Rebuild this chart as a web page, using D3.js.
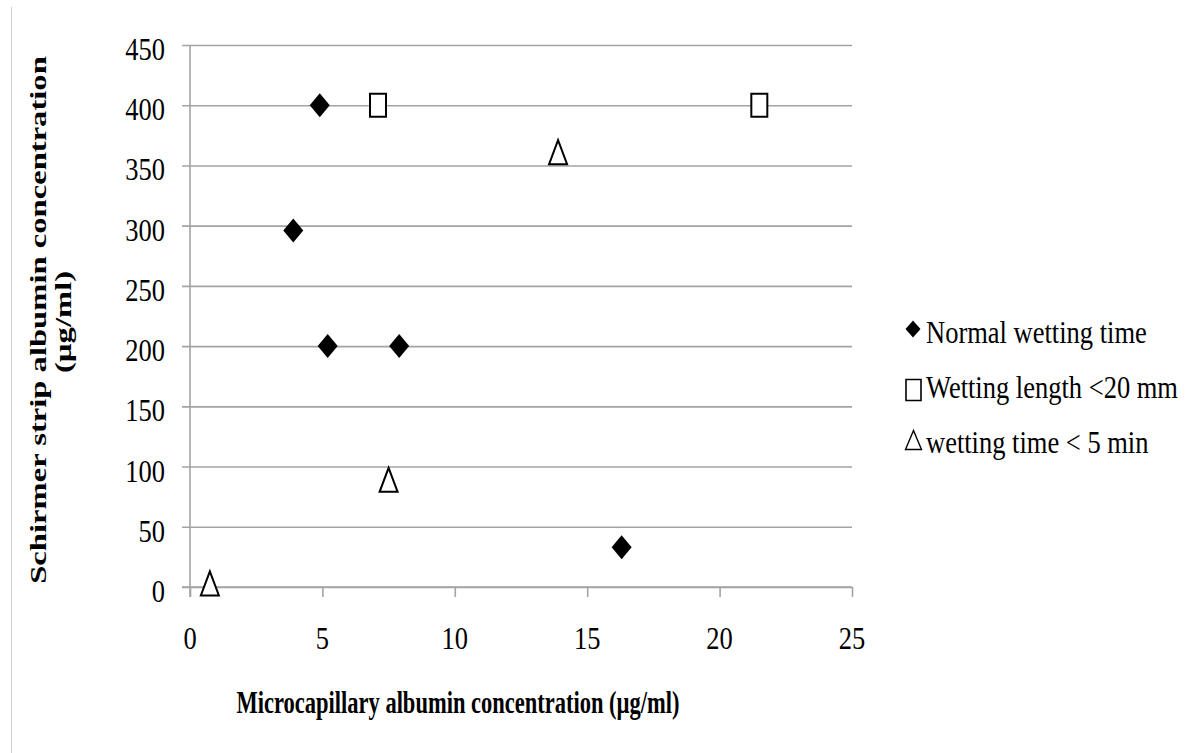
<!DOCTYPE html>
<html>
<head>
<meta charset="utf-8">
<script src="https://cdn.jsdelivr.net/npm/d3@7"></script>
<style>
  html, body { margin: 0; padding: 0; background: #fff; }
  svg { display: block; }
  text { font-family: "Liberation Serif", "Times New Roman", serif; fill: #000; }
</style>
</head>
<body>
<svg id="chart" width="1200" height="753"></svg>
<script>
// Albumin concentrations (µg/ml) per group
const normalX = [4.9, 3.9, 5.2, 7.9, 16.3];
const normalY = [400, 296, 200, 200, 33];
const lengthX = [7.1, 21.5];
const lengthY = [400, 400];
const timeX = [0.75, 7.5, 13.9];
const timeY = [3, 89, 361];

const seriesNames = ["Normal wetting time", "Wetting length <20 mm", "wetting time < 5 min"];
const xTicks = [0, 5, 10, 15, 20, 25];
const yTicks = [0, 50, 100, 150, 200, 250, 300, 350, 400, 450];
const xTitle = "Microcapillary albumin concentration (µg/ml)";
const yTitle = ["Schirmer strip albumin concentration", "(µg/ml)"];

const svg = d3.select("#chart");

const x = d3.scaleLinear().domain([0, 25]).range([190, 852]);
const y = d3.scaleLinear().domain([0, 450]).range([587, 45]);

const gridColor = "#a3a3a3";

// page border on the left
svg.append("line")
  .attr("x1", 11.5).attr("x2", 11.5).attr("y1", 7).attr("y2", 753)
  .attr("stroke", "#cfcfcf").attr("stroke-width", 1);

// horizontal gridlines, reaching a little past the vertical axis as tick stubs
const yAxis = d3.axisLeft(y).tickValues(yTicks).tickSize(852 - 182).tickSizeOuter(0).tickFormat("");
const gy = svg.append("g").attr("transform", "translate(852,0)").call(yAxis);
gy.select(".domain").remove();
gy.selectAll(".tick line").attr("stroke", gridColor).attr("stroke-width", 1.6);

// vertical axis line
svg.append("line")
  .attr("x1", x(0)).attr("x2", x(0)).attr("y1", y(450)).attr("y2", y(0) + 10)
  .attr("stroke", gridColor).attr("stroke-width", 1.6);

// x axis with downward ticks
const xAxis = d3.axisBottom(x).tickValues(xTicks).tickSize(10).tickSizeOuter(0).tickFormat("");
const gx = svg.append("g").attr("transform", `translate(0,${y(0)})`).call(xAxis);
gx.select(".domain").attr("stroke", gridColor).attr("stroke-width", 1.6)
  .attr("d", `M182,0H${x(25)}`);
gx.selectAll(".tick line").attr("stroke", gridColor).attr("stroke-width", 1.6);

// tick labels (slightly tall serif)
const labelSize = 26.5, labelStretch = 1.2;
svg.append("g").selectAll("text").data(yTicks).join("text")
  .attr("transform", d => `translate(165,${y(d) + 15}) scale(1,${labelStretch})`)
  .attr("text-anchor", "end")
  .style("font-size", labelSize + "px")
  .text(d => d);

svg.append("g").selectAll("text").data(xTicks).join("text")
  .attr("transform", d => `translate(${x(d)},${y(0) + 62}) scale(1,${labelStretch})`)
  .attr("text-anchor", "middle")
  .style("font-size", labelSize + "px")
  .text(d => d);

// axis titles
const titleSize = 22.5, titleStretch = 1.45;
svg.append("text")
  .attr("transform", `translate(458,713) scale(1,${titleStretch})`)
  .attr("text-anchor", "middle")
  .style("font-size", titleSize + "px").style("font-weight", "bold")
  .text(xTitle);

svg.append("text")
  .attr("transform", `translate(46,320) rotate(-90) scale(${titleStretch},1)`)
  .attr("text-anchor", "middle")
  .style("font-size", titleSize + "px").style("font-weight", "bold")
  .text(yTitle[0]);
svg.append("text")
  .attr("transform", `translate(71,322) rotate(-90) scale(${titleStretch},1)`)
  .attr("text-anchor", "middle")
  .style("font-size", titleSize + "px").style("font-weight", "bold")
  .text(yTitle[1]);

// marker shapes, centred on the origin
const diamondPath = (w, h) => `M0,${-h / 2}L${w / 2},0L0,${h / 2}L${-w / 2},0Z`;
const squarePath = (w, h) => `M${-w / 2},${-h / 2}H${w / 2}V${h / 2}H${-w / 2}Z`;
const trianglePath = (w, h) => `M0,${-h / 2}L${w / 2},${h / 2}H${-w / 2}Z`;

const plot = svg.append("g");

plot.selectAll("path.normal").data(d3.zip(normalX, normalY)).join("path")
  .attr("class", "normal")
  .attr("transform", d => `translate(${x(d[0])},${y(d[1])})`)
  .attr("d", diamondPath(20, 24))
  .attr("fill", "#000");

plot.selectAll("path.length").data(d3.zip(lengthX, lengthY)).join("path")
  .attr("class", "length")
  .attr("transform", d => `translate(${x(d[0])},${y(d[1])})`)
  .attr("d", squarePath(16, 23))
  .attr("fill", "#fff").attr("stroke", "#000").attr("stroke-width", 2);

plot.selectAll("path.time").data(d3.zip(timeX, timeY)).join("path")
  .attr("class", "time")
  .attr("transform", d => `translate(${x(d[0])},${y(d[1])})`)
  .attr("d", trianglePath(18, 24))
  .attr("fill", "#fff").attr("stroke", "#000").attr("stroke-width", 2);

// legend
const legendBase = [343, 398, 453];
const legend = svg.append("g");
legend.append("path").attr("transform", "translate(913,329)")
  .attr("d", diamondPath(15, 17)).attr("fill", "#000");
legend.append("path").attr("transform", "translate(913.5,390)")
  .attr("d", squarePath(15, 21)).attr("fill", "#fff").attr("stroke", "#000").attr("stroke-width", 1.6);
legend.append("path").attr("transform", "translate(913.5,440)")
  .attr("d", trianglePath(16, 19)).attr("fill", "#fff").attr("stroke", "#000").attr("stroke-width", 1.4);

legend.selectAll("text").data(seriesNames).join("text")
  .attr("transform", (d, i) => `translate(926,${legendBase[i]}) scale(1,${labelStretch})`)
  .style("font-size", labelSize + "px")
  .text(d => d);
</script>
</body>
</html>
